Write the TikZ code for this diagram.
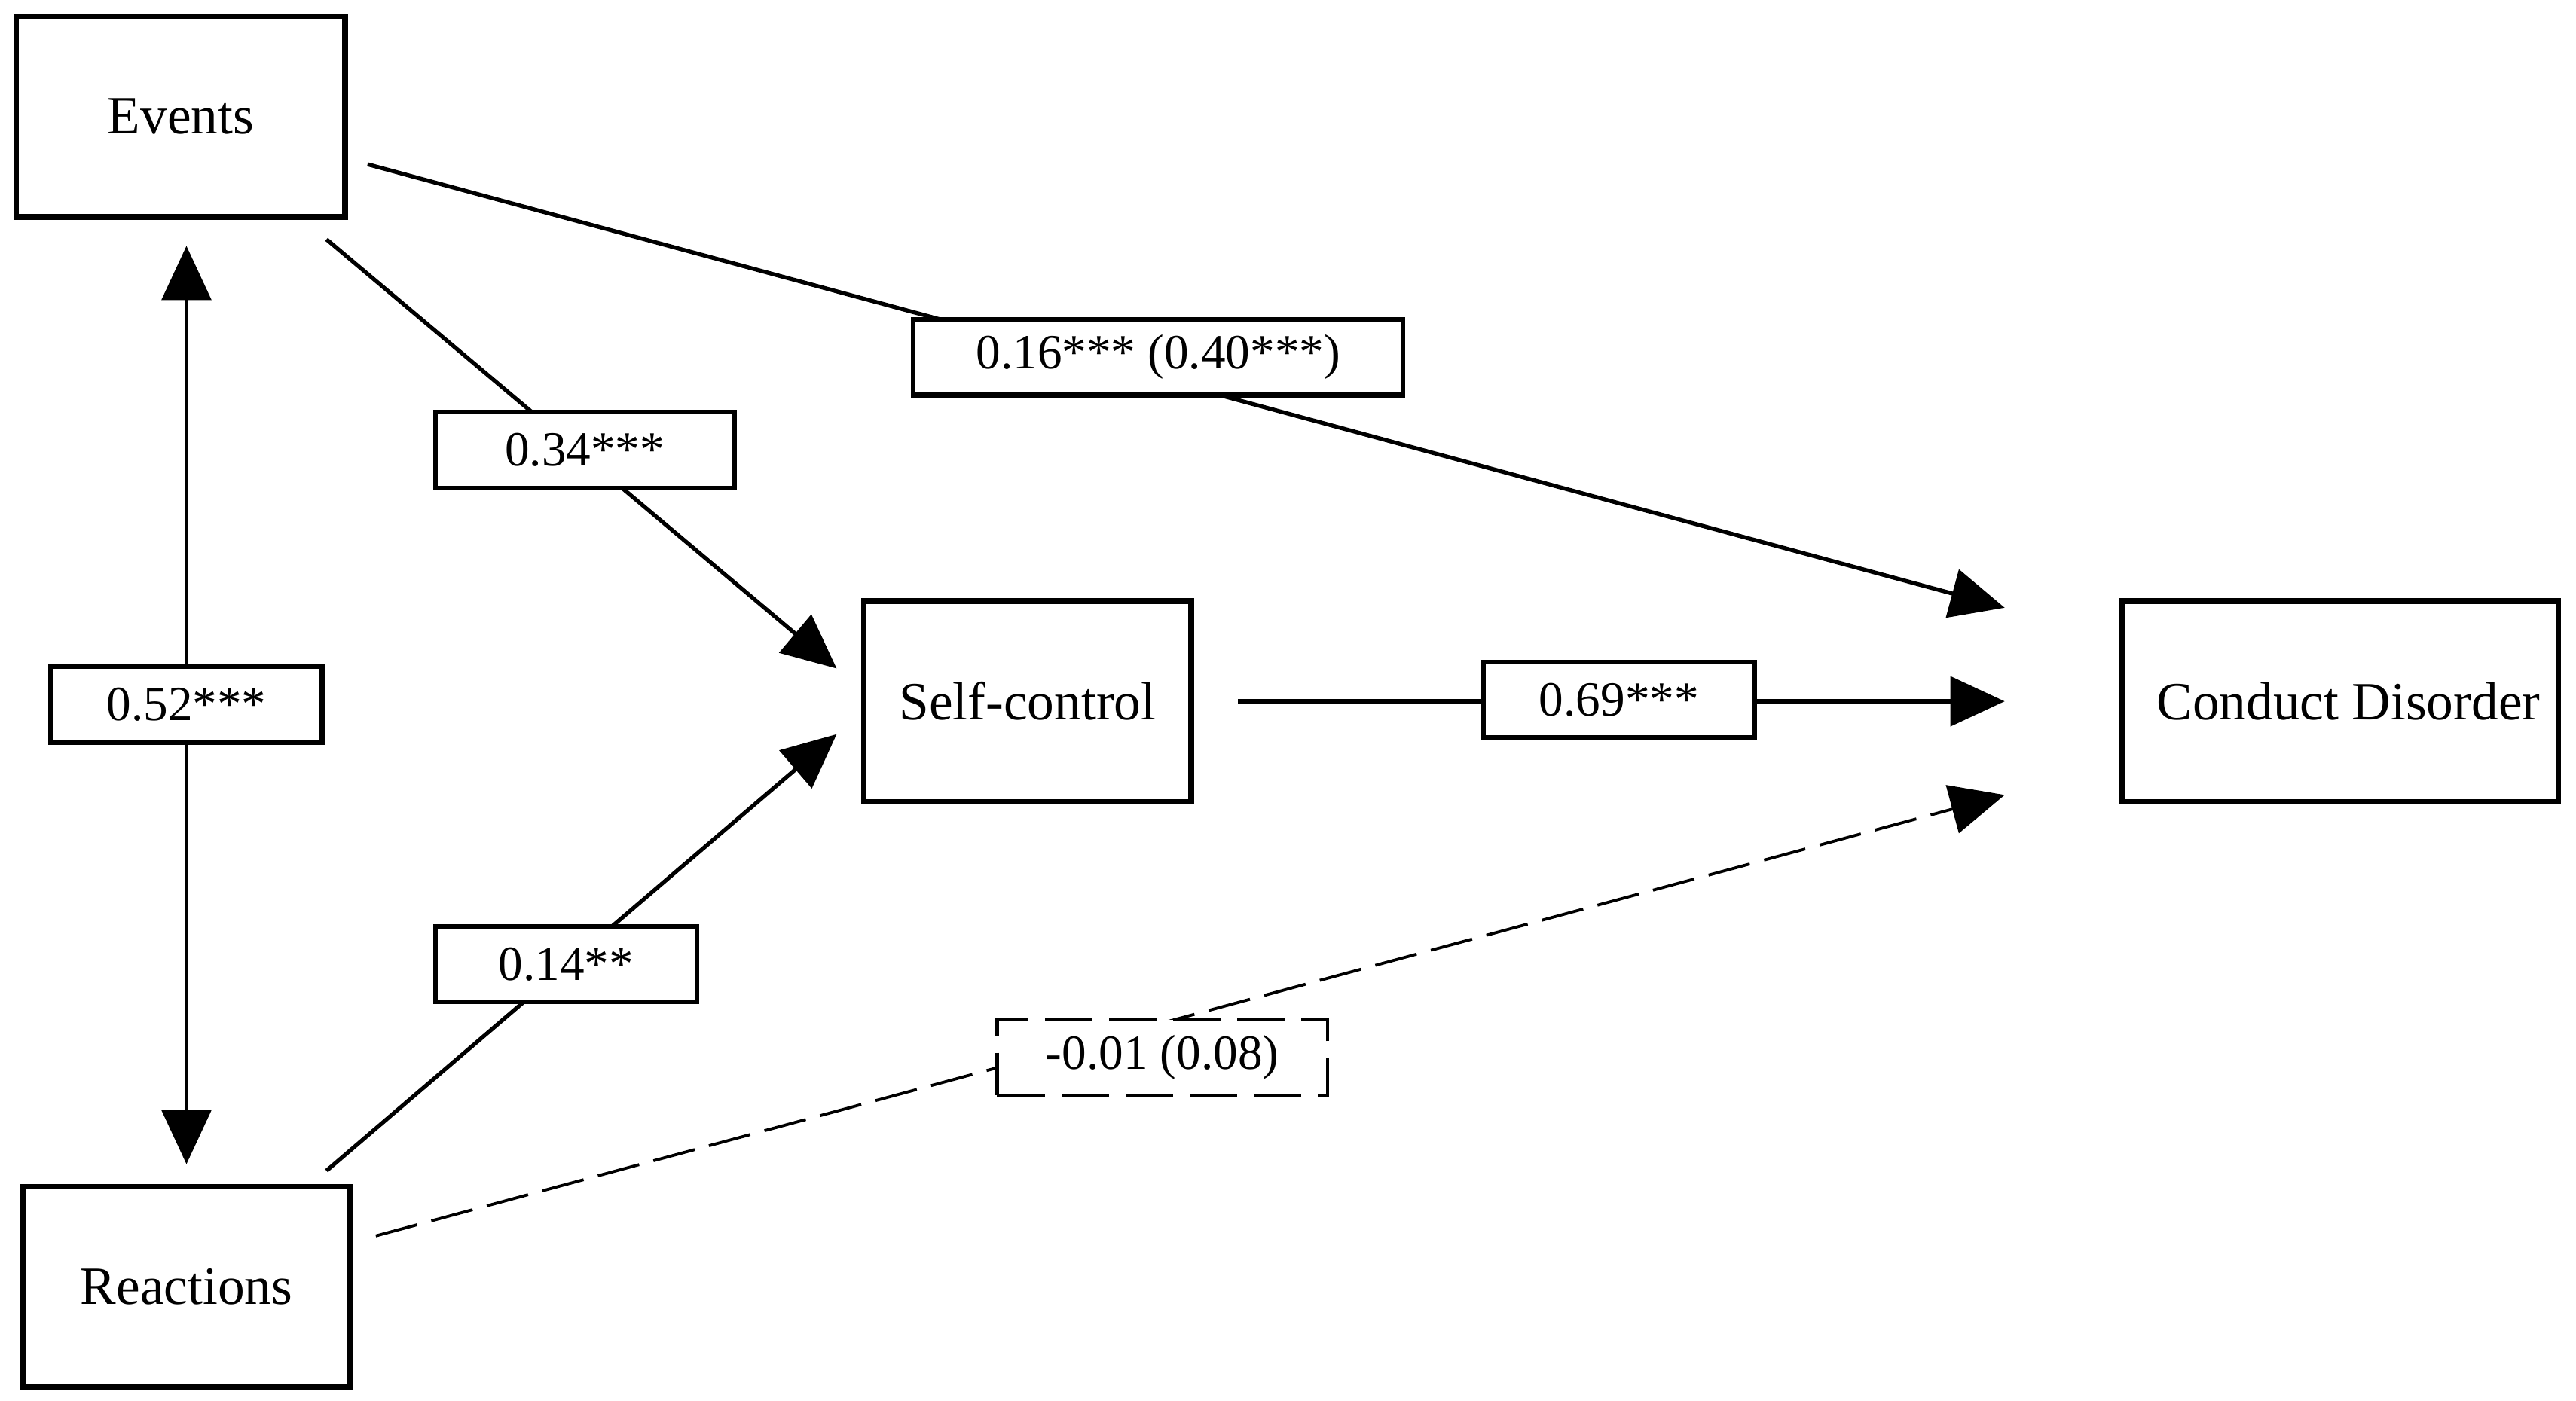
\documentclass[tikz,border=0pt]{standalone}
\usepackage{fontspec}
\setmainfont{Liberation Serif}
\usetikzlibrary{arrows.meta}
\tikzset{
  var/.style={draw, line width=0.95pt, minimum width=1.99cm, minimum height=1.22cm,
    inner sep=0pt, font=\fontsize{9.3}{11}\selectfont},
  coef/.style={draw, fill=white, line width=0.8pt, minimum height=0.46cm,
    inner sep=0pt, font=\fontsize{8.5}{10}\selectfont},
  coefdash/.style={coef, line width=0.6pt, dash pattern=on 0.29cm off 0.1cm},
  link/.style={line width=0.7pt},
  weaklink/.style={line width=0.5pt, dash pattern=on 0.26cm off 0.09cm}
}
\begin{document}
\begin{tikzpicture}[x=0.01cm, y=-0.01cm, >={Triangle[length=0.33cm,width=0.3cm]}]
      \useasboundingbox (0,0) rectangle (1568,853);
      \draw
        (110,71) node[var, minimum width=2cm] (ev){Events}
        (113.5,783.5) node[var] (re){Reactions}
        (625.5,427) node[var] (sc){Self-control}
        (1424.5,427) node[var, minimum width=2.65cm] (cd){\hspace{0.1cm}Conduct Disorder};
      \begin{scope}[->]
        \draw[link, <->] ([shift={(3.5,16)}]ev.south) to ([shift={(0,-12)}]re.north);
        \draw[link] ([shift={(-13,12)}]ev.south east) to ([shift={(-15,-20)}]sc.west);
        \draw[link] ([shift={(-16,-8)}]re.north east) to ([shift={(-15,20)}]sc.west);
        \draw[link] ([shift={(12,29)}]ev.east) to ([shift={(-70,-57)}]cd.west);
        \draw[link] ([shift={(27,0)}]sc.east) to ([shift={(-70,0)}]cd.west);
        \draw[weaklink] ([shift={(14,-31)}]re.east) to ([shift={(-70,57)}]cd.west);
      \end{scope}
      \draw
        (113.5,429) node[coef, minimum width=1.65cm] (l52){0.52***}
        (356,274) node[coef, minimum width=1.82cm] (l34){0.34***}
        (344.5,587) node[coef, minimum width=1.59cm] (l14){0.14**}
        (705,217.5) node[coef, minimum width=2.98cm] (l16){0.16*** (0.40***)}
        (985.5,426) node[coef, minimum width=1.65cm] (l69){0.69***}
        (707.5,644) node[coefdash, minimum width=2.01cm] (l01){-0.01 (0.08)};
\end{tikzpicture}
\end{document}
